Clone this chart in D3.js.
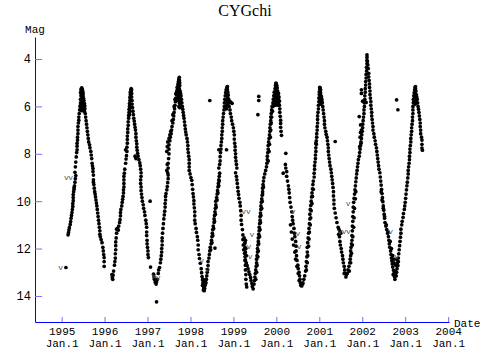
<!DOCTYPE html>
<html><head><meta charset="utf-8">
<script src="https://cdn.jsdelivr.net/npm/d3@7"></script>
<style>body{margin:0;background:#fff;} svg{display:block;}</style>
</head><body>
<svg id="chart" width="500" height="360"></svg>
<script>
const title = "CYGchi";
const yearTicks = [1995,1996,1997,1998,1999,2000,2001,2002,2003,2004];
const tickSubLabel = "Jan.1";
const magTicks = [4,6,8,10,12,14];

const obs1995 = [[1995.10,12.8],
[1995.15,11.42],[1995.16,11.33],[1995.17,11.22],[1995.18,11.12],[1995.20,10.98],[1995.21,10.86],[1995.22,10.72],[1995.23,10.6],[1995.24,10.48],[1995.25,10.35],[1995.26,10.22],[1995.26,10.1],[1995.27,9.98],[1995.27,9.85],[1995.27,9.72],[1995.28,9.6],[1995.29,9.5],[1995.29,9.42],[1995.30,9.35],[1995.31,9.2],[1995.32,9.05],[1995.33,8.92],[1995.31,8.78],
[1995.32,8.55],[1995.33,8.35],[1995.34,8.13],[1995.35,7.95],[1995.36,7.83],[1995.36,7.68],[1995.36,7.55],[1995.37,7.42],[1995.37,7.3],[1995.38,7.15],[1995.38,7.0],[1995.38,6.85],[1995.39,6.7],[1995.40,6.58],[1995.40,6.45],[1995.41,6.3],[1995.42,6.15],[1995.43,6.0],[1995.44,5.85],[1995.44,5.7],[1995.45,5.55],
[1995.44,5.42],[1995.45,5.3],[1995.46,5.24],[1995.47,5.22],[1995.48,5.28],[1995.49,5.36],[1995.50,5.45],[1995.50,5.56],[1995.51,5.66],[1995.52,5.75],[1995.46,5.4],[1995.47,5.5],[1995.48,5.62],[1995.45,5.7],[1995.46,5.82],[1995.44,5.95],[1995.45,6.08],[1995.46,6.16],[1995.48,6.18],[1995.49,6.08],[1995.50,5.95],[1995.51,5.85],[1995.53,5.88],[1995.54,5.98],[1995.54,6.1],[1995.53,6.2],
[1995.55,6.3],[1995.56,6.45],[1995.57,6.6],[1995.58,6.75],[1995.59,6.9],[1995.60,7.05],[1995.61,7.2],[1995.62,7.35],[1995.63,7.5],[1995.65,7.62],[1995.66,7.75],[1995.68,7.9],[1995.69,8.05],[1995.70,8.2],[1995.71,8.4],[1995.72,8.52],[1995.73,8.62],[1995.73,8.75],[1995.74,8.9],[1995.74,9.1],[1995.74,9.2],[1995.75,9.3],[1995.76,9.45],[1995.77,9.6],[1995.78,9.7],[1995.79,9.82],[1995.80,9.95],[1995.81,10.08],[1995.82,10.2],[1995.83,10.35],[1995.84,10.5],[1995.85,10.65],[1995.86,10.8],[1995.87,10.95],[1995.88,11.1],[1995.89,11.25],[1995.89,11.4],[1995.90,11.5],[1995.92,11.62],[1995.94,11.75],[1995.96,11.95],[1995.97,12.1],[1995.98,12.25],[1995.99,12.38],[1995.99,12.55],[1995.99,12.75]];

const obs1996 = [[1996.17,13.1],[1996.18,13.22],[1996.19,13.3],[1996.20,13.12],
[1996.21,12.95],[1996.23,12.7],[1996.24,12.55],[1996.25,12.4],[1996.25,12.22],[1996.26,12.05],[1996.26,11.88],[1996.26,11.72],[1996.27,11.55],[1996.28,11.35],[1996.28,11.18],[1996.30,11.15],[1996.32,11.22],[1996.33,11.05],[1996.35,10.9],[1996.36,10.78],[1996.37,10.62],[1996.37,10.48],[1996.38,10.35],[1996.40,10.2],[1996.41,10.05],[1996.42,9.92],[1996.43,9.8],[1996.44,9.65],[1996.44,9.52],[1996.45,9.4],[1996.45,9.25],[1996.45,9.1],[1996.45,8.95],[1996.46,8.82],
[1996.47,8.65],[1996.49,8.4],[1996.50,8.22],[1996.51,8.08],[1996.49,7.83],[1996.52,7.9],[1996.52,7.72],[1996.53,7.55],[1996.53,7.4],[1996.53,7.25],[1996.54,7.1],[1996.54,6.95],[1996.55,6.8],[1996.55,6.65],[1996.56,6.5],[1996.56,6.38],[1996.57,6.25],[1996.57,6.12],[1996.58,6.0],[1996.58,5.88],[1996.59,5.75],[1996.59,5.62],[1996.60,5.5],[1996.60,5.4],[1996.61,5.3],[1996.62,5.25],[1996.63,5.3],
[1996.58,6.35],[1996.59,6.2],[1996.60,6.05],[1996.60,5.9],[1996.61,5.75],[1996.61,5.6],[1996.62,5.45],[1996.62,5.38],
[1996.63,5.45],[1996.63,5.6],[1996.64,5.75],[1996.64,5.9],[1996.65,6.05],[1996.66,6.2],[1996.67,6.35],[1996.68,6.5],[1996.69,6.62],[1996.70,6.75],[1996.71,6.88],[1996.72,7.0],[1996.73,7.15],[1996.73,7.3],[1996.74,7.45],[1996.75,7.58],[1996.75,7.72],[1996.76,7.85],[1996.77,7.98],[1996.78,8.1],[1996.80,8.25],[1996.82,8.38],[1996.83,8.5],[1996.84,8.65],[1996.85,8.8],[1996.85,8.95],[1996.84,9.1],[1996.84,9.25],[1996.85,9.4],[1996.85,9.55],[1996.86,9.7],[1996.87,9.85],[1996.88,10.0],[1996.90,10.15],[1996.91,10.3],[1996.93,10.45],[1996.94,10.6],[1996.96,10.8],[1996.97,10.95],[1996.98,11.1],[1996.98,11.3],[1996.98,11.45],[1996.99,11.65],[1996.99,11.8],[1997.00,11.95],[1997.01,12.1],[1997.01,12.25],[1997.02,12.38],[1997.07,12.78],
[1996.71,8.1],[1996.73,8.2],[1997.06,10.0]];

const obs1997 = [[1997.14,13.08],[1997.15,13.2],[1997.16,13.3],[1997.18,13.42],[1997.20,13.5],[1997.21,13.4],[1997.21,14.25],
[1997.23,13.3],[1997.25,13.05],[1997.26,12.9],[1997.28,12.8],[1997.30,12.6],[1997.31,12.45],[1997.32,12.3],[1997.33,12.15],[1997.33,12.0],[1997.34,11.85],[1997.34,11.68],[1997.34,11.55],[1997.35,11.35],[1997.36,11.15],[1997.37,10.95],[1997.38,10.75],[1997.39,10.58],[1997.40,10.42],[1997.41,10.25],[1997.41,10.1],[1997.42,9.95],[1997.42,9.8],[1997.43,9.68],[1997.45,9.52],[1997.46,9.38],[1997.47,9.22],[1997.48,9.05],[1997.48,8.9],
[1997.47,8.8],[1997.48,8.6],[1997.48,8.4],[1997.49,8.2],[1997.50,8.0],[1997.50,7.8],[1997.50,7.62],[1997.52,7.45],[1997.53,7.3],[1997.55,7.15],[1997.56,7.0],[1997.57,6.85],[1997.59,6.7],[1997.60,6.55],[1997.61,6.4],[1997.62,6.25],[1997.63,6.1],[1997.64,5.95],[1997.65,5.8],[1997.66,5.65],[1997.67,5.5],[1997.68,5.35],[1997.69,5.2],[1997.71,5.05],[1997.72,4.95],[1997.73,4.85],[1997.74,4.77],
[1997.45,8.7],[1997.46,8.45],[1997.45,7.9],[1997.46,7.7],[1997.47,7.5],[1997.50,7.35],[1997.52,7.2],[1997.54,7.05],[1997.57,6.6],[1997.59,6.35],[1997.62,6.0],[1997.64,5.7],[1997.66,5.45],
[1997.70,5.3],[1997.71,5.15],[1997.72,5.1],[1997.73,5.0],[1997.74,4.9],[1997.75,5.0],[1997.75,5.12],[1997.74,5.25],[1997.73,5.4],[1997.72,5.5],[1997.71,5.62],[1997.72,5.75],[1997.74,5.65],[1997.75,5.5],[1997.76,5.35],[1997.77,5.45],[1997.76,5.62],[1997.77,5.75],[1997.74,5.85],[1997.76,5.9],[1997.73,6.0],[1997.75,6.05],
[1997.78,5.55],[1997.79,5.7],[1997.80,5.85],[1997.81,6.0],[1997.82,6.12],[1997.83,6.25],[1997.84,6.38],[1997.85,6.5],[1997.86,6.65],[1997.87,6.8],[1997.88,6.95],[1997.89,7.08],[1997.90,7.2],[1997.92,7.35],[1997.93,7.5],[1997.94,7.65],[1997.94,7.8],[1997.95,7.95],[1997.96,8.1],[1997.97,8.25],[1997.97,8.4],[1997.97,8.55],[1997.97,8.7],
[1997.99,8.85],[1998.01,9.0],[1998.03,9.12],[1998.04,9.3],[1998.05,9.5],[1998.06,9.68],[1998.07,9.82],[1998.08,9.98],[1998.08,10.12],[1998.09,10.28],[1998.10,10.45],[1998.10,10.62],[1998.10,10.8],[1998.11,10.95],[1998.13,11.15],[1998.14,11.32],[1998.16,11.5],[1998.17,11.65],[1998.18,11.85],[1998.18,12.05],[1998.20,12.25],[1998.21,12.42],[1998.23,12.62],[1998.25,12.85],[1998.26,13.02],[1998.27,13.18],[1998.28,13.32],[1998.29,13.45],[1998.30,13.58],[1998.31,13.7],[1998.32,13.62],[1998.33,13.5],[1998.29,13.3],[1998.31,13.4],
[1998.28,13.55],[1998.30,13.75],[1998.32,13.78],[1998.33,13.68],[1998.34,13.55],[1998.35,13.42],[1998.36,13.3],[1998.31,13.62]];

const obs1998 = [[1998.36,13.45],[1998.37,13.3],[1998.38,13.15],[1998.39,13.0],[1998.40,12.88],[1998.41,12.72],[1998.41,12.55],[1998.43,12.4],[1998.44,12.25],[1998.45,12.1],[1998.46,11.95],[1998.48,11.8],[1998.49,11.65],[1998.50,11.5],[1998.51,11.35],[1998.52,11.2],[1998.53,11.05],[1998.55,10.9],[1998.55,10.75],[1998.56,10.6],[1998.57,10.45],[1998.58,10.3],[1998.59,10.15],[1998.59,10.0],[1998.61,9.85],[1998.62,9.7],[1998.63,9.55],[1998.64,9.4],[1998.65,9.25],[1998.66,9.1],[1998.67,8.95],[1998.68,8.82],
[1998.47,12.05],[1998.50,11.75],[1998.52,11.45],[1998.54,11.15],[1998.56,10.85],[1998.58,10.55],[1998.60,10.25],[1998.62,9.95],[1998.64,9.65],[1998.66,9.35],[1998.67,9.15],[1998.57,11.98],
[1998.66,8.6],[1998.68,8.45],[1998.69,8.3],[1998.69,8.12],[1998.70,7.95],[1998.71,7.8],[1998.71,7.65],[1998.72,7.5],[1998.73,7.35],[1998.73,7.2],[1998.74,7.05],[1998.74,6.9],[1998.75,6.75],[1998.75,6.6],[1998.76,6.45],[1998.77,6.3],[1998.78,6.15],[1998.79,6.0],[1998.79,5.85],[1998.80,5.7],[1998.81,5.55],[1998.82,5.42],[1998.83,5.3],[1998.85,5.2],[1998.86,5.16],
[1998.66,7.83],[1998.84,7.83],[1998.45,5.75],
[1998.84,5.35],[1998.85,5.28],[1998.86,5.3],[1998.87,5.4],[1998.88,5.52],[1998.87,5.65],[1998.85,5.55],[1998.84,5.7],[1998.83,5.85],[1998.85,5.82],[1998.86,5.95],[1998.88,5.8],[1998.89,5.7],[1998.90,5.85],[1998.92,5.8],[1998.94,5.83],[1998.97,5.87],[1998.82,6.0],[1998.84,6.1],
[1998.90,6.0],[1998.92,6.15],[1998.93,6.3],[1998.95,6.45],[1998.96,6.6],[1998.98,6.75],[1999.00,6.9],[1999.01,7.05],[1999.02,7.2],[1999.02,7.38],[1999.03,7.55],[1999.04,7.7],[1999.04,7.85],[1999.05,8.0],[1999.05,8.15],[1999.06,8.3],[1999.07,8.45],[1999.08,8.6],[1999.05,8.8],[1999.07,8.95],[1999.08,9.1],[1999.09,9.25],[1999.10,9.42],[1999.11,9.58],[1999.12,9.72],[1999.13,9.88],[1999.15,10.05],[1999.16,10.2],[1999.17,10.4],[1999.18,10.6],[1999.18,10.8],[1999.19,10.98],[1999.21,11.2],[1999.22,11.42],[1999.22,11.62],[1999.23,11.85],[1999.24,12.05],[1999.26,12.2],[1999.27,12.35],[1999.28,12.48],[1999.30,12.6],[1999.32,12.72],[1999.34,12.85],[1999.36,12.98],[1999.38,13.1],[1999.40,13.22],[1999.41,13.35],[1999.43,13.48],[1999.44,13.6],[1999.46,13.7],
[1999.27,11.75],[1999.27,11.95],[1999.28,12.15],[1999.27,12.5],[1999.28,12.7],[1999.28,12.9],[1999.29,13.1],[1999.29,13.3],[1999.30,13.5],[1999.31,13.62],[1999.25,11.55],[1999.26,11.8],[1999.28,11.65],[1999.29,12.0],[1999.30,12.3]];

const obs2000 = [[1999.48,13.5],[1999.49,13.35],[1999.50,13.2],[1999.51,13.05],[1999.52,12.9],[1999.53,12.75],[1999.54,12.6],[1999.54,12.45],[1999.55,12.3],[1999.56,12.15],[1999.56,12.0],[1999.57,11.85],[1999.58,11.7],[1999.58,11.55],[1999.59,11.4],[1999.60,11.25],[1999.60,11.1],[1999.61,10.95],[1999.62,10.8],[1999.62,10.65],[1999.63,10.5],[1999.64,10.35],[1999.64,10.2],[1999.65,10.05],[1999.66,9.9],[1999.67,9.75],[1999.68,9.6],[1999.68,9.45],[1999.69,9.3],[1999.70,9.15],[1999.71,9.0],[1999.73,8.85],
[1999.52,13.3],[1999.54,13.0],[1999.55,12.7],[1999.57,12.35],[1999.58,12.1],[1999.59,11.8],[1999.61,11.5],[1999.62,11.2],[1999.63,10.9],[1999.64,10.6],[1999.66,10.3],[1999.67,10.0],[1999.68,9.7],[1999.70,9.4],
[1999.75,8.7],[1999.77,8.55],[1999.78,8.4],[1999.79,8.25],[1999.79,8.1],[1999.80,7.95],[1999.81,7.8],[1999.81,7.65],[1999.82,7.5],[1999.83,7.35],[1999.84,7.2],[1999.85,7.05],[1999.85,6.9],[1999.86,6.75],[1999.87,6.6],[1999.87,6.45],[1999.88,6.3],[1999.89,6.15],[1999.90,6.0],[1999.92,5.85],[1999.93,5.7],[1999.94,5.55],[1999.95,5.4],[1999.97,5.25],[1999.98,5.12],[1999.99,5.02],
[1999.81,8.3],[1999.83,7.9],[1999.84,7.6],[1999.86,7.3],[1999.87,7.0],[1999.88,6.7],[1999.89,6.45],[1999.91,6.2],[1999.92,6.0],[1999.94,5.9],
[2000.00,5.05],[2000.01,5.12],[2000.02,5.22],[2000.03,5.35],[2000.04,5.48],[1999.99,5.25],[1999.98,5.38],[1999.97,5.5],[1999.96,5.62],[1999.97,5.75],[1999.99,5.65],[2000.01,5.4],[2000.02,5.55],[2000.03,5.68],[2000.05,5.62],[2000.04,5.8],[2000.06,5.75],[2000.06,5.92],[1999.95,5.85],[1999.97,5.95],[2000.00,5.85],[2000.02,5.95],[1999.93,5.95],
[1999.59,5.58],[1999.59,5.75],[1999.57,6.35],
[2000.05,5.45],[2000.06,5.6],[2000.07,5.78],[2000.07,5.95],[2000.08,6.1],[2000.08,6.25],[2000.09,6.42],[2000.10,6.58],[2000.10,6.72],[2000.10,6.88],[2000.11,7.05],[2000.12,7.22],[2000.22,7.98],[2000.21,8.45],[2000.22,8.6],[2000.24,8.75],[2000.16,8.82],[2000.24,8.95],[2000.26,9.15],[2000.28,9.35],[2000.29,9.5],[2000.30,9.65],[2000.31,9.85],[2000.32,10.05],[2000.34,10.25],[2000.36,10.45],[2000.37,10.65],[2000.38,10.8],[2000.39,10.95],[2000.41,11.15],[2000.42,11.35],[2000.43,11.5],[2000.45,11.7],[2000.46,11.9],[2000.46,12.1],[2000.47,12.3],[2000.48,12.5],[2000.50,12.7],[2000.51,12.85],[2000.53,13.0],[2000.54,13.15],[2000.55,13.3],[2000.56,13.45],[2000.57,13.55],
[2000.33,11.0],[2000.35,11.3],[2000.37,11.6],[2000.40,11.85],[2000.43,12.15],[2000.45,12.45],[2000.48,12.75],[2000.51,13.05],[2000.53,13.35]];

const obs2001 = [[2000.59,13.58],[2000.61,13.5],
[2000.62,13.45],[2000.64,13.3],[2000.66,13.15],[2000.68,12.95],[2000.69,12.75],[2000.70,12.55],[2000.71,12.35],[2000.72,12.15],[2000.72,11.95],[2000.73,11.75],[2000.74,11.55],[2000.75,11.35],[2000.76,11.15],[2000.77,10.95],[2000.78,10.75],[2000.78,10.55],[2000.79,10.35],[2000.80,10.18],[2000.81,10.0],[2000.82,9.82],[2000.83,9.65],[2000.84,9.48],[2000.85,9.3],[2000.86,9.15],[2000.88,8.98],
[2000.70,12.9],[2000.72,12.6],[2000.73,12.3],[2000.75,11.9],[2000.76,11.6],[2000.77,11.3],[2000.79,11.0],[2000.80,10.7],[2000.81,10.4],[2000.83,10.1],[2000.84,9.8],[2000.86,9.5],
[2000.88,8.82],[2000.89,8.65],[2000.89,8.5],[2000.90,8.35],[2000.91,8.2],[2000.91,8.05],[2000.92,7.9],[2000.92,7.75],[2000.93,7.6],[2000.93,7.45],[2000.94,7.3],[2000.94,7.15],[2000.95,7.0],[2000.95,6.85],[2000.96,6.7],[2000.96,6.55],[2000.96,6.4],[2000.97,6.25],[2000.98,6.1],[2000.98,5.95],[2000.99,5.8],[2000.99,5.65],[2001.00,5.5],[2001.00,5.38],[2001.01,5.27],[2001.01,5.2],
[2001.02,5.22],[2001.03,5.3],[2001.03,5.42],[2001.04,5.55],[2001.02,5.5],[2001.01,5.62],[2001.02,5.75],[2001.04,5.7],[2001.05,5.6],[2001.06,5.8],[2001.03,5.9],
[2001.06,5.7],[2001.07,5.85],[2001.08,6.0],[2001.09,6.15],[2001.10,6.3],[2001.11,6.45],[2001.12,6.6],[2001.12,6.75],[2001.13,6.9],[2001.15,7.05],[2001.16,7.18],[2001.18,7.3],[2001.19,7.45],[2001.20,7.6],[2001.21,7.75],[2001.21,7.9],[2001.22,8.05],[2001.23,8.2],[2001.24,8.35],[2001.25,8.5],[2001.27,8.65],[2001.28,8.8],[2001.29,8.95],[2001.30,9.1],[2001.31,9.25],[2001.32,9.42],[2001.33,9.6],[2001.33,9.78],[2001.34,9.95],[2001.34,10.12],[2001.35,10.3],[2001.37,10.5],[2001.39,10.7],[2001.41,10.9],
[2001.44,11.1],[2001.46,11.2],[2001.48,11.28],[2001.50,11.35],[2001.45,11.4],[2001.47,11.5],[2001.48,11.7],[2001.49,11.85],[2001.51,12.0],[2001.52,12.15],[2001.54,12.3],[2001.55,12.45],[2001.56,12.6],[2001.58,12.75],[2001.59,12.9],[2001.60,13.05],[2001.62,13.2],[2001.63,13.1],[2001.58,13.05],
[2001.37,7.48],[2000.92,7.55]];

const obs2002 = [[2001.65,13.05],[2001.67,12.9],[2001.69,12.75],[2001.71,12.6],[2001.72,12.45],[2001.73,12.3],[2001.73,12.1],[2001.74,11.95],[2001.75,11.8],[2001.76,11.65],[2001.76,11.45],[2001.77,11.25],[2001.77,11.05],[2001.78,10.85],[2001.78,10.65],[2001.79,10.45],[2001.79,10.25],[2001.80,10.05],[2001.81,9.88],[2001.82,9.7],[2001.83,9.52],[2001.84,9.35],[2001.85,9.18],[2001.86,9.02],[2001.87,8.85],
[2001.70,12.95],[2001.73,12.6],[2001.75,12.2],[2001.77,11.85],[2001.78,11.5],[2001.80,11.1],[2001.81,10.7],[2001.82,10.3],[2001.84,9.9],[2001.85,9.6],
[2001.88,8.7],[2001.89,8.55],[2001.90,8.4],[2001.91,8.25],[2001.93,8.1],[2001.94,7.95],[2001.95,7.8],[2001.96,7.65],[2001.97,7.5],[2001.98,7.35],[2001.99,7.2],[2002.00,7.05],[2002.01,6.9],[2002.01,6.75],[2002.02,6.6],[2002.03,6.45],[2002.04,6.3],[2002.04,6.15],[2002.05,6.0],[2002.05,5.85],[2002.06,5.7],[2002.06,5.55],[2002.07,5.4],[2002.07,5.25],[2002.08,5.1],[2002.08,4.95],[2002.09,4.8],[2002.09,4.65],[2002.10,4.5],[2002.10,4.35],[2002.11,4.2],[2002.11,4.05],[2002.11,3.92],[2002.11,3.82],
[2001.93,6.43],[2001.96,6.78],[2001.96,7.1],[2001.95,7.3],[2001.98,5.3],[2001.98,5.45],[2002.01,5.78],[2002.03,5.8],[2002.09,5.83],[2001.97,7.55],[2001.94,7.7],[2001.98,7.0],
[2002.12,4.1],[2002.13,4.25],[2002.14,4.4],[2002.15,4.6],[2002.15,4.75],[2002.16,4.9],[2002.17,5.05],[2002.17,5.2],[2002.18,5.35],[2002.18,5.5],[2002.19,5.65],[2002.20,5.8],[2002.20,5.95],[2002.21,6.1],[2002.22,6.25],[2002.22,6.4],[2002.23,6.55],[2002.24,6.7],[2002.25,6.85],[2002.25,7.0],[2002.27,7.15],[2002.28,7.3],[2002.30,7.45],[2002.31,7.6],[2002.33,7.75],[2002.34,7.9],[2002.35,8.05],[2002.36,8.2],[2002.37,8.35],[2002.38,8.5],[2002.39,8.65],[2002.41,8.8],[2002.42,8.98],[2002.43,9.15],[2002.44,9.32],[2002.45,9.5],[2002.46,9.68],[2002.47,9.85],[2002.48,10.02],[2002.49,10.2],[2002.50,10.38],[2002.51,10.55],[2002.52,10.72],[2002.53,10.9],[2002.55,11.05],[2002.57,11.2],[2002.59,11.35],[2002.61,11.5],[2002.62,11.65],[2002.63,11.8],[2002.64,11.95],[2002.66,12.1],[2002.67,12.25],[2002.68,12.4],[2002.69,12.52],[2002.70,12.65],[2002.71,12.78],[2002.73,12.92],[2002.74,13.05],[2002.75,13.18],[2002.76,13.3],
[2002.44,9.6],[2002.46,9.95],[2002.49,10.3],[2002.52,10.65],[2002.56,11.0],[2002.60,11.3],[2002.65,11.7],[2002.68,12.0],[2002.71,12.3],[2002.74,12.6],[2002.77,12.95],[2002.78,13.15],[2002.72,13.1],[2002.73,12.45],[2002.80,12.45],[2002.82,12.6],[2002.78,12.7]];

const obs2003 = [[2002.79,13.15],[2002.80,13.0],[2002.81,12.85],[2002.83,12.72],[2002.84,12.55],[2002.84,12.4],[2002.85,12.22],[2002.86,12.05],[2002.87,11.88],[2002.88,11.7],[2002.89,11.52],[2002.90,11.35],[2002.90,11.18],[2002.92,11.0],[2002.93,10.85],[2002.95,10.68],[2002.96,10.52],[2002.98,10.35],[2002.99,10.2],[2003.00,10.05],[2003.01,9.88],[2003.02,9.7],[2003.03,9.52],[2003.04,9.35],[2003.05,9.2],[2003.06,9.02],[2003.07,8.85],
[2003.07,8.7],[2003.08,8.55],[2003.09,8.4],[2003.10,8.25],[2003.10,8.1],[2003.11,7.95],[2003.11,7.8],[2003.12,7.65],[2003.13,7.5],[2003.13,7.35],[2003.14,7.2],[2003.15,7.05],[2003.15,6.9],[2003.16,6.75],[2003.17,6.6],[2003.17,6.45],[2003.18,6.3],[2003.18,6.15],[2003.18,6.0],[2003.19,5.85],[2003.19,5.7],[2003.20,5.55],[2003.21,5.42],[2003.22,5.3],[2003.23,5.2],[2003.24,5.16],
[2003.24,5.25],[2003.25,5.35],[2003.23,5.45],[2003.22,5.6],[2003.24,5.55],[2003.25,5.7],[2003.26,5.5],[2003.27,5.6],[2003.21,5.8],[2003.23,5.9],[2003.26,5.85],
[2003.28,5.7],[2003.29,5.85],[2003.30,6.0],[2003.31,6.12],[2003.32,6.25],[2003.33,6.4],[2003.34,6.55],[2003.35,6.7],[2003.35,6.85],[2003.36,7.0],[2003.36,7.15],[2003.38,7.3],[2003.39,7.42],[2003.39,7.6],[2003.39,7.76],[2003.40,7.85],
[2002.80,5.72],[2002.83,6.14]];

const upperLimits = [[1994.98,12.8],[1995.11,8.98],[1995.21,8.98],[1997.15,13.15],[1997.25,13.22],[1998.26,12.5],[1998.38,12.9],[1999.24,10.45],[1999.35,10.45],[1999.43,11.4],[1999.36,11.9],[1999.39,12.35],[2000.39,10.45],[2000.50,11.35],[2000.53,11.9],[2001.48,11.28],[2001.58,11.28],[2001.68,11.28],[2001.67,10.08],[2002.66,11.3],[2002.80,12.35]];

const seasons = [obs1995, obs1996, obs1997, obs1998, obs2000, obs2001, obs2002, obs2003];

const svg = d3.select("#chart");
const x = d3.scaleLinear().domain([1994.38, 2004.02]).range([35, 449]);
const y = d3.scaleLinear().domain([3.07, 15.1]).range([37, 322]);
const mono = "'Liberation Mono', 'DejaVu Sans Mono', monospace";

svg.append("text").attr("x", 245).attr("y", 16).attr("text-anchor", "middle")
  .attr("font-family", "'Liberation Serif', 'Times New Roman', serif").attr("font-size", 16).text(title);

// points
const pts = svg.append("g");
seasons.forEach(s => {
  pts.selectAll(null).data(s).enter().append("circle")
    .attr("cx", d => x(d[0])).attr("cy", d => y(d[1])).attr("r", 1.85).attr("fill", "#000");
});
svg.append("g").selectAll("text").data(upperLimits).enter().append("text")
  .attr("x", d => x(d[0])).attr("y", d => y(d[1]) + 2.5).attr("text-anchor", "middle")
  .attr("font-family", mono).attr("font-size", 8).attr("fill", "#555").text("v");

// y axis
const yAxis = d3.axisLeft(y).tickValues(magTicks).tickSizeInner(-7).tickSizeOuter(0).tickPadding(4);
const gy = svg.append("g").attr("transform", "translate(35,0)").call(yAxis);
gy.select(".domain").attr("stroke", "#0000ff");
gy.selectAll(".tick line").attr("stroke", "#6f6fff");
gy.selectAll(".tick text").attr("font-family", mono).attr("font-size", 12).attr("fill", "#000");

// x axis
const xAxis = d3.axisBottom(x).tickValues(yearTicks).tickSizeInner(-5).tickSizeOuter(0).tickFormat(d3.format("d"));
const gx = svg.append("g").attr("transform", "translate(0,322)").call(xAxis);
gx.select(".domain").attr("stroke", "#0000ff");
gx.selectAll(".tick line").attr("stroke", "#6f6fff");
gx.selectAll(".tick text").attr("font-family", mono).attr("font-size", 11).attr("fill", "#000")
  .attr("y", 13).attr("dy", null)
  .each(function(d) {
    const t = d3.select(this); t.text(null);
    t.append("tspan").attr("x", 0).text(d);
    t.append("tspan").attr("x", 0).attr("dy", 11.5).text(tickSubLabel);
  });

svg.append("text").attr("x", 35).attr("y", 33).attr("text-anchor", "middle")
  .attr("font-family", mono).attr("font-size", 11).text("Mag");
svg.append("text").attr("x", 454).attr("y", 327)
  .attr("font-family", mono).attr("font-size", 11).text("Date");
</script>
</body></html>
